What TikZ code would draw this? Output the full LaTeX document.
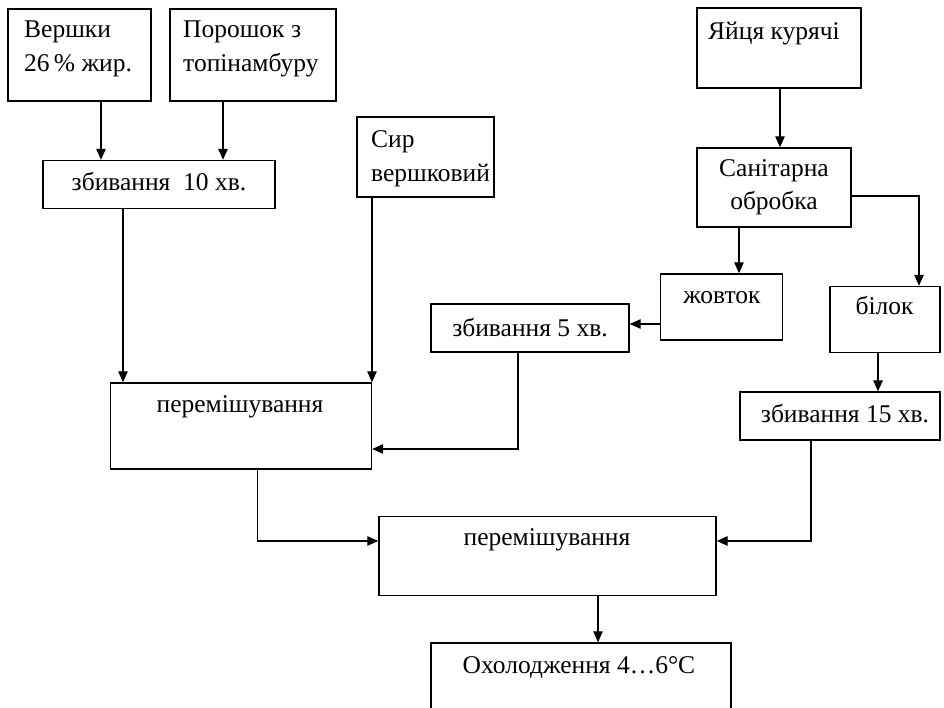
\documentclass[tikz,border=0pt]{standalone}
\usepackage{fontspec}
\setmainfont{Liberation Serif}
\usetikzlibrary{arrows.meta}
\begin{document}
\begin{tikzpicture}[x=1pt,y=-1pt,
  box/.style={draw,line width=1.4pt,inner sep=0pt,rectangle},
  txt/.style={inner sep=0pt,font=\fontsize{25.5}{34}\selectfont},
  arr/.style={line width=1.2pt,-{Triangle[length=11pt,width=9.5pt]}}]
\clip (0,0) rectangle (944,708);
\fill[white] (0,0) rectangle (944,708);
% boxes
\node[box,minimum width=143pt,minimum height=92pt] (verh) at (79.5,55) {};
\node[box,minimum width=166pt,minimum height=92pt] (por) at (253,55) {};
\node[box,minimum width=232pt,minimum height=48pt] (zb10) at (159,184.5) {};
\node[box,minimum width=137pt,minimum height=80pt] (syr) at (425.5,157) {};
\node[box,minimum width=164pt,minimum height=80pt] (yay) at (779,48) {};
\node[box,minimum width=154pt,minimum height=79pt] (san) at (774,187.5) {};
\node[box,minimum width=122pt,minimum height=66pt] (zhov) at (721.5,307) {};
\node[box,minimum width=110pt,minimum height=66pt] (bil) at (885,319.5) {};
\node[box,minimum width=200pt,minimum height=48pt] (zb15) at (840,416) {};
\node[box,minimum width=198pt,minimum height=48pt] (zb5) at (530,328) {};
\node[box,minimum width=261pt,minimum height=86pt] (per1) at (241,426) {};
\node[box,minimum width=337pt,minimum height=79pt] (per2) at (547.5,556) {};
\node[box,minimum width=300pt,minimum height=77pt] (okh) at (581,681.5) {};
% texts
\node[txt,anchor=base west] (t1a) at (24,38) {Вершки};
\node[txt,anchor=base west] (t1b) at (24,72) {26\,\% жир.};
\node[txt,anchor=base west] (t2a) at (183,38) {Порошок з};
\node[txt,anchor=base west] (t2b) at (183,72) {топінамбуру};
\node[txt,anchor=base] (t3) at (159,191) {збивання\ \ 10 хв.};
\node[txt,anchor=base west] (t4a) at (371,148) {Сир};
\node[txt,anchor=base west] (t4b) at (371,182) {вершковий};
\node[txt,anchor=base west] (t5) at (708,40) {Яйця курячі};
\node[txt,anchor=base] (t6a) at (774,177) {Санітарна};
\node[txt,anchor=base] (t6b) at (774,210) {обробка};
\node[txt,anchor=base] (t7) at (722,303) {жовток};
\node[txt,anchor=base] (t8) at (884.5,315) {білок};
\node[txt,anchor=base] (t9) at (530,336) {збивання 5 хв.};
\node[txt,anchor=base] (t10) at (845,422) {збивання 15 хв.};
\node[txt,anchor=base] (t11) at (240,412) {перемішування};
\node[txt,anchor=base] (t12) at (547,545.5) {перемішування};
\node[txt,anchor=base] (t13) at (579,673) {Охолодження 4…6°C};
% x positions
\coordinate (xa) at (101,0);
\coordinate (xb) at (223,0);
\coordinate (xc) at (780,0);
\coordinate (xd) at (739,0);
\coordinate (xe) at (919,0);
\coordinate (xf) at (878,0);
\coordinate (xg) at (123,0);
\coordinate (xh) at (372,0);
\coordinate (xi) at (518,0);
\coordinate (xj) at (257.5,0);
\coordinate (xk) at (811,0);
\coordinate (xl) at (598,0);
\coordinate (ya) at (0,196);
\coordinate (yb) at (0,324);
\coordinate (yc) at (0,449);
\coordinate (yd) at (0,541);
% connectors
\draw[arr] (verh.south -| xa) -- (zb10.north -| xa);
\draw[arr] (por.south -| xb) -- (zb10.north -| xb);
\draw[arr] (yay.south -| xc) -- (san.north -| xc);
\draw[arr] (san.south -| xd) -- (zhov.north -| xd);
\draw[arr] (san.east |- ya) -| (bil.north -| xe);
\draw[arr] (zhov.west |- yb) -- (zb5.east |- yb);
\draw[arr] (bil.south -| xf) -- (zb15.north -| xf);
\draw[arr] (zb10.south -| xg) -- (per1.north -| xg);
\draw[arr] (syr.south -| xh) -- (per1.north -| xh);
\draw[arr] (zb5.south -| xi) |- (per1.east |- yc);
\draw[arr] (per1.south -| xj) |- (per2.west |- yd);
\draw[arr] (zb15.south -| xk) |- (per2.east |- yd);
\draw[arr] (per2.south -| xl) -- (okh.north -| xl);
\end{tikzpicture}
\end{document}
